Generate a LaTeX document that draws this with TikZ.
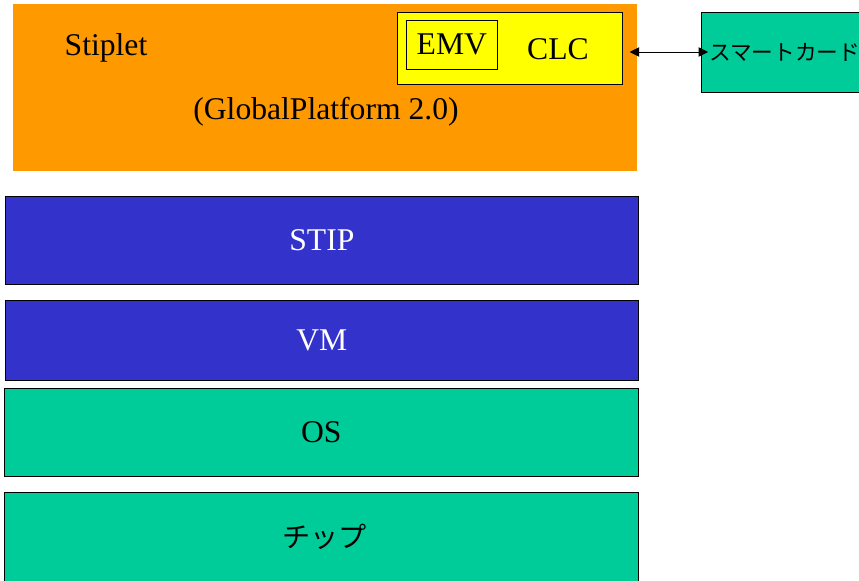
\documentclass[tikz,border=0pt]{standalone}
\usepackage{fontspec}
\setmainfont{Liberation Serif}
\newfontfamily\jpfont{Noto Sans CJK JP}
\usetikzlibrary{positioning, arrows.meta}
\definecolor{stiporange}{HTML}{FF9900}
\definecolor{stipyellow}{HTML}{FFFF00}
\definecolor{stipblue}{HTML}{3333CC}
\definecolor{stipgreen}{HTML}{00CC99}

\begin{document}
\begin{tikzpicture}[
        x=0.03cm, y=-0.03cm,
        layer/.style={rectangle, draw=black, line width=0.6pt, anchor=north west, inner sep=0pt, font=\fontsize{27}{31}\selectfont},
        bluelayer/.style={layer, fill=stipblue, text=white},
        greenlayer/.style={layer, fill=stipgreen},
        label/.style={inner sep=0pt, font=\fontsize{27}{31}\selectfont},
        arrow/.style={{Triangle[length=8pt,width=8pt]}-{Triangle[length=8pt,width=8pt]}, line width=0.6pt}
    ]
    \useasboundingbox (0,0) rectangle (859,580);
    \clip (0,0) rectangle (859,580);
    % アプリケーション層
    \node[layer, draw=none, fill=stiporange, minimum width=18.72cm, minimum height=5.01cm] (stiplet) at (13,4) {};
    \node[label] (stipletname) at (106,48) {Stiplet};
    \node[label] (gp) at (326,112) {(GlobalPlatform 2.0)};
    \node[layer, fill=stipyellow, minimum width=6.75cm, minimum height=2.16cm] (clc) at (397,12) {};
    \node[layer, minimum width=2.73cm, minimum height=1.47cm] (emv) at (406,20) {};
    \node[label] at (emv.center) {EMV};
    \node[label] (clcname) at (558,49) {CLC};

    % スマートカード
    \node[greenlayer, minimum width=5.37cm, minimum height=2.4cm] (card) at (701,12) {};
    \node[anchor=west, inner sep=0pt, font=\jpfont\fontsize{18.5}{22}\selectfont] (cardname) at (709,52) {スマートカード};

    % 下位層
    \node[bluelayer, minimum width=18.99cm, minimum height=2.64cm] (stip) at (5,196) {STIP};
    \node[bluelayer, minimum width=18.99cm, minimum height=2.4cm] (vm) at (5,300) {VM};
    \node[greenlayer, minimum width=19.02cm, minimum height=2.64cm] (os) at (4,388) {OS};
    \node[greenlayer, minimum width=19.02cm, minimum height=2.7cm] (chip) at (4,492) {};
    \node[font=\jpfont\fontsize{24}{28}\selectfont] at ([xshift=0.1cm]chip.center) {チップ};

    % 連接箭头
    \draw[arrow, shorten <=6pt, shorten >=-6pt] (clc.east |- 0,52) -- (card.west |- 0,52);
\end{tikzpicture}
\end{document}
